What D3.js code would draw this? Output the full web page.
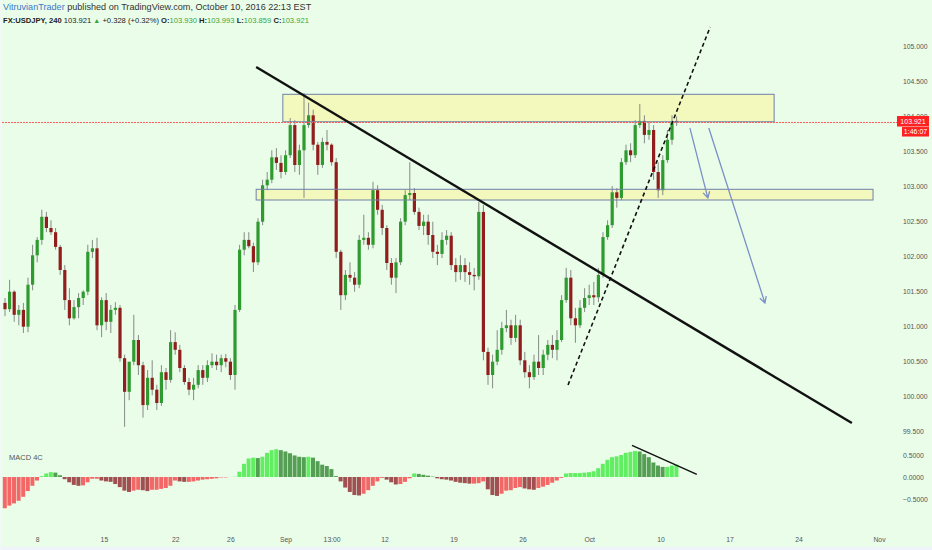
<!DOCTYPE html>
<html><head><meta charset="utf-8">
<script src="https://cdn.jsdelivr.net/npm/d3@7/dist/d3.min.js"></script>
<style>html,body{margin:0;padding:0;background:#eafde9;}svg{display:block}</style>
</head><body><svg id="c" width="932" height="550"></svg>
<script>
// ---- data (USDJPY, candles [open, high, low, close]) ----
const candles = [
[101.33,101.40,101.14,101.24],[101.24,101.66,101.20,101.49],[101.49,101.51,101.06,101.16],[101.16,101.30,101.01,101.23],
[101.23,101.33,100.90,100.99],[100.99,101.69,100.91,101.59],[101.59,102.16,101.51,102.01],[102.01,102.27,101.91,102.23],
[102.23,102.66,102.16,102.56],[102.56,102.63,102.34,102.40],[102.40,102.51,102.30,102.34],[102.34,102.40,102.09,102.13],
[102.13,102.16,101.73,101.80],[101.80,101.87,101.23,101.37],[101.37,101.54,101.01,101.11],[101.11,101.37,101.09,101.27],
[101.27,101.47,101.11,101.40],[101.40,101.51,101.30,101.49],[101.49,102.16,101.44,102.06],[102.06,102.23,101.97,102.11],
[102.11,102.26,100.94,101.01],[101.01,101.41,100.84,101.37],[101.37,101.47,100.94,101.06],[101.06,101.30,100.90,101.23],
[101.23,101.34,101.16,101.26],[101.26,101.30,100.49,100.54],[100.54,100.59,99.56,100.06],[100.06,100.40,99.94,100.49],
[100.49,101.16,100.44,100.80],[100.80,100.87,100.30,100.44],[100.44,100.49,99.69,99.87],[99.87,100.37,99.80,100.26],
[100.26,100.51,100.01,100.09],[100.09,100.16,99.80,99.90],[99.90,100.44,99.86,100.34],[100.34,100.40,100.09,100.23],
[100.23,100.94,100.19,100.77],[100.77,100.91,100.59,100.66],[100.66,100.73,100.34,100.40],[100.40,100.44,100.16,100.20],
[100.20,100.26,100.01,100.09],[100.09,100.26,99.94,100.16],[100.16,100.44,100.11,100.37],[100.37,100.44,100.16,100.26],
[100.26,100.51,100.20,100.44],[100.44,100.61,100.40,100.49],[100.49,100.59,100.37,100.44],[100.44,100.59,100.34,100.54],
[100.54,100.60,100.41,100.49],[100.49,100.54,100.23,100.30],[100.30,101.30,100.09,101.23],[101.23,102.16,101.20,102.09],
[102.09,102.34,102.01,102.23],[102.23,102.34,102.11,102.14],[102.14,102.19,101.77,101.91],[101.91,102.54,101.87,102.49],
[102.49,103.09,102.44,103.01],[103.01,103.20,102.94,103.09],[103.09,103.51,103.04,103.41],[103.41,103.54,103.23,103.33],
[103.33,103.44,103.11,103.20],[103.20,103.51,103.16,103.44],[103.44,103.97,103.40,103.87],[103.87,103.94,103.20,103.30],
[103.30,103.59,103.16,103.51],[103.51,104.33,102.83,103.87],[103.87,104.19,103.83,104.01],[104.01,104.09,103.51,103.59],
[103.59,103.63,103.16,103.30],[103.30,103.69,103.26,103.63],[103.63,103.80,103.51,103.59],[103.59,103.61,103.29,103.34],
[103.34,103.40,101.97,102.06],[102.06,102.09,101.23,101.44],[101.44,101.80,101.37,101.73],[101.73,101.91,101.63,101.69],
[101.69,101.77,101.49,101.59],[101.59,102.30,101.54,102.23],[102.23,102.59,102.16,102.26],[102.26,102.34,102.09,102.16],
[102.16,103.06,102.11,102.94],[102.94,103.01,102.59,102.66],[102.66,102.73,102.30,102.40],[102.40,102.44,101.80,101.90],
[101.90,101.97,101.59,101.69],[101.69,101.97,101.47,101.91],[101.91,102.54,101.87,102.49],[102.49,102.94,102.44,102.87],
[102.87,103.34,102.80,102.90],[102.90,102.97,102.59,102.63],[102.63,102.69,102.37,102.43],[102.43,102.59,102.30,102.49],
[102.49,102.59,102.16,102.30],[102.30,102.49,101.97,102.06],[102.06,102.16,101.87,102.03],[102.03,102.34,101.97,102.23],
[102.23,102.37,102.16,102.29],[102.29,102.34,101.80,101.87],[101.87,101.97,101.63,101.77],[101.77,102.01,101.66,101.87],
[101.87,101.97,101.63,101.77],[101.77,101.91,101.59,101.73],[101.73,101.83,101.51,101.71],[101.71,102.77,101.66,102.63],
[102.63,102.73,100.51,100.63],[100.63,100.69,100.16,100.30],[100.30,100.59,100.11,100.49],[100.49,100.94,100.44,100.66],
[100.66,101.06,100.59,100.97],[100.97,101.23,100.91,101.01],[101.01,101.09,100.73,100.83],[100.83,101.16,100.77,101.01],
[101.01,101.09,100.44,100.51],[100.51,100.63,100.26,100.34],[100.34,100.44,100.11,100.27],[100.27,100.59,100.23,100.49],
[100.49,100.87,100.30,100.40],[100.40,100.66,100.30,100.59],[100.59,100.80,100.51,100.73],[100.73,100.87,100.54,100.66],
[100.66,100.94,100.51,100.80],[100.80,101.44,100.77,101.37],[101.37,101.83,101.33,101.69],[101.69,101.80,101.01,101.11],
[101.11,101.26,100.76,101.01],[101.01,101.37,100.97,101.26],[101.26,101.54,101.20,101.40],[101.40,101.59,101.30,101.44],
[101.44,101.63,101.30,101.41],[101.41,101.83,101.34,101.73],[101.73,102.34,101.69,102.27],[102.27,102.51,102.23,102.44],
[102.44,103.00,102.40,102.91],[102.91,102.97,102.69,102.83],[102.83,103.40,102.80,103.34],[103.34,103.59,103.30,103.51],
[103.51,103.61,103.34,103.44],[103.44,103.94,103.40,103.87],[103.87,104.17,103.83,103.93],[103.93,104.01,103.61,103.73],
[103.73,103.91,103.66,103.80],[103.80,103.87,103.09,103.20],[103.20,103.34,102.83,102.94],[102.94,103.44,102.87,103.37],
[103.37,103.80,103.33,103.66],[103.66,104.01,103.59,103.91],[103.930,103.993,103.859,103.921]
];
const macdHist = [
-0.71,-0.65,-0.60,-0.54,-0.45,-0.32,-0.20,-0.08,0.02,0.08,0.11,0.10,0.04,-0.05,-0.12,-0.18,-0.20,-0.19,-0.12,-0.04,
-0.04,-0.08,-0.10,-0.11,-0.16,-0.23,-0.31,-0.34,-0.31,-0.29,-0.30,-0.32,-0.29,-0.29,-0.27,-0.25,-0.20,-0.08,-0.10,-0.11,
-0.11,-0.10,-0.08,-0.06,-0.05,-0.04,-0.03,-0.01,-0.01,0.00,0.005,0.12,0.30,0.42,0.44,0.43,0.46,0.55,0.61,0.63,
0.61,0.58,0.54,0.49,0.46,0.45,0.46,0.44,0.36,0.28,0.25,0.18,0.02,-0.10,-0.24,-0.34,-0.41,-0.42,-0.38,-0.30,
-0.20,-0.10,-0.02,-0.06,-0.12,-0.17,-0.16,-0.11,-0.03,0.08,0.07,0.05,0.03,0.01,-0.03,-0.05,-0.06,-0.08,-0.11,-0.13,
-0.14,-0.15,-0.15,-0.14,-0.10,-0.28,-0.41,-0.43,-0.38,-0.31,-0.30,-0.25,-0.23,-0.26,-0.28,-0.29,-0.25,-0.22,-0.18,-0.13,
-0.08,-0.02,0.08,0.09,0.09,0.09,0.10,0.11,0.13,0.20,0.30,0.39,0.45,0.47,0.50,0.55,0.57,0.59,0.58,0.52,
0.45,0.33,0.26,0.23,0.23,0.26,0.28
];
const priceTicks = [105, 104.5, 104, 103.5, 103, 102.5, 102, 101.5, 101, 100.5, 100, 99.5];
const macdTicks = [0.5, 0, -0.5];
const timeTickIdx = [7, 21.5, 37, 49, 61, 71, 82.5, 97.5, 112.5, 127, 142.5, 157.5, 172.5, 190];
const timeTickLabels = ["8","15","22","26","Sep","13:00","12","19","26","Oct","10","17","24","Nov"];
const symbol = "FX:USDJPY, 240";
const lastPrice = 103.921, change = "+0.328 (+0.32%)";
const ohlcLabels = [["O:","103.930"],["H:","103.993"],["L:","103.859"],["C:","103.921"]];
const countdown = "1:46:07";
// drawings in (candle index, price) space
const zones = [{i0:60.4,i1:167.2,p0:104.31,p1:103.918},{i0:54.6,i1:188.7,p0:102.953,p1:102.80}];
const trendLines = [{i0:54.6,p0:104.70,i1:184.1,p1:99.614,dash:false},{i0:122.4,p0:100.157,i1:153.3,p1:105.271,dash:true}];
const arrows = [{i0:148.9,p0:103.828,i1:152.8,p1:102.828},{i0:153.0,p0:103.828,i1:165.2,p1:101.328}];
const macdTrend = {i0:136.3,v0:0.72,i1:150.4,v1:0.06};

// ---- scales ----
const svg = d3.select("#c");
const x = d3.scaleLinear().domain([0, 146]).range([5, 676.6]);
const y = d3.scaleLinear().domain([99.5, 105]).range([431, 46]);
const ym = d3.scaleLinear().domain([-0.5, 0.5]).range([499, 455]);
const FONT = "Liberation Sans, Arial, sans-serif";

svg.append("rect").attr("width",932).attr("height",550).attr("fill","#eafde9");
svg.append("rect").attr("x",0).attr("y",547).attr("width",932).attr("height",3).attr("fill","#eef4fa");
svg.append("rect").attr("x",0).attr("y",0).attr("width",2).attr("height",550).attr("fill","#f2f8f6");

const defs = svg.append("defs");
defs.append("clipPath").attr("id","mainClip").append("rect").attr("x",2).attr("y",0).attr("width",895).attr("height",440);
defs.append("clipPath").attr("id","macdClip").append("rect").attr("x",2).attr("y",441).attr("width",895).attr("height",72);

const main = svg.append("g").attr("clip-path","url(#mainClip)");

// zone fills
main.selectAll("rect.zf").data(zones).enter().append("rect")
  .attr("x",d=>x(d.i0)).attr("width",d=>x(d.i1)-x(d.i0))
  .attr("y",d=>y(d.p0)).attr("height",d=>y(d.p1)-y(d.p0))
  .attr("fill","#f3f9bc");

// candles
const cg = main.append("g");
cg.selectAll("line").data(candles).enter().append("line")
  .attr("x1",(d,i)=>x(i)).attr("x2",(d,i)=>x(i))
  .attr("y1",d=>y(d[1])).attr("y2",d=>y(d[2]))
  .attr("stroke","#868a86").attr("stroke-width",1);
cg.selectAll("rect").data(candles).enter().append("rect")
  .attr("x",(d,i)=>x(i)-1.6).attr("width",3.2)
  .attr("y",d=>y(Math.max(d[0],d[3])))
  .attr("height",d=>Math.max(1, Math.abs(y(d[0])-y(d[3]))))
  .attr("fill",d=>d[3]>=d[0]?"#2f9a2f":"#921d1d");

// zone outlines
main.selectAll("rect.zo").data(zones).enter().append("rect")
  .attr("x",d=>x(d.i0)).attr("width",d=>x(d.i1)-x(d.i0))
  .attr("y",d=>y(d.p0)).attr("height",d=>y(d.p1)-y(d.p0))
  .attr("fill","none").attr("stroke","#6f80a8").attr("stroke-width",1);

// last price dotted line
const lyLine = Math.round(y(lastPrice)) + 0.5;
main.append("line").attr("x1",2).attr("x2",897).attr("y1",lyLine).attr("y2",lyLine)
  .attr("stroke","#ff5a5a").attr("stroke-width",1).attr("stroke-dasharray","2,1");

// trend lines
main.selectAll("line.tl").data(trendLines).enter().append("line")
  .attr("x1",d=>x(d.i0)).attr("y1",d=>y(d.p0)).attr("x2",d=>x(d.i1)).attr("y2",d=>y(d.p1))
  .attr("stroke","#111").attr("stroke-width",d=>d.dash?1.6:2.4)
  .attr("stroke-dasharray",d=>d.dash?"4,3":null);

// arrows
arrows.forEach(a=>{
  const x0=x(a.i0), y0=y(a.p0), x1=x(a.i1), y1=y(a.p1);
  const ang=Math.atan2(y1-y0,x1-x0), L=7, w=0.5;
  const p = `M${x0},${y0}L${x1},${y1}M${x1-L*Math.cos(ang-w)},${y1-L*Math.sin(ang-w)}L${x1},${y1}L${x1-L*Math.cos(ang+w)},${y1-L*Math.sin(ang+w)}`;
  main.append("path").attr("d",p).attr("fill","none").attr("stroke","#7b90c6").attr("stroke-width",1.3);
});

// MACD histogram
const mg = svg.append("g").attr("clip-path","url(#macdClip)");
function macdColor(v,i){
  const prev = i>0?macdHist[i-1]:v;
  const rising = v>=prev;
  if(v>=0) return rising?"#62ee62":"#559f55";
  return rising?"#f36767":"#a05050";
}
mg.selectAll("rect").data(macdHist).enter().append("rect")
  .attr("x",(d,i)=>x(i)-2.2).attr("width",4.0)
  .attr("y",d=>Math.min(ym(d),ym(0))).attr("height",d=>Math.abs(ym(d)-ym(0)))
  .attr("fill",(d,i)=>macdColor(d,i));
svg.append("line").attr("x1",x(macdTrend.i0)).attr("y1",ym(macdTrend.v0))
  .attr("x2",x(macdTrend.i1)).attr("y2",ym(macdTrend.v1))
  .attr("stroke","#111").attr("stroke-width",1.5);
svg.append("text").attr("x",9).attr("y",460).attr("font-family",FONT).attr("font-size",7.5)
  .attr("fill","#555").text("MACD 4C");

// axes
const ya = svg.append("g").attr("transform","translate(900,0)")
  .call(d3.axisRight(y).tickValues(priceTicks).tickFormat(d3.format(".3f")).tickSize(0).tickPadding(3));
const ma = svg.append("g").attr("transform","translate(900,0)")
  .call(d3.axisRight(ym).tickValues(macdTicks).tickFormat(d3.format(".4f")).tickSize(0).tickPadding(3));
const xa = svg.append("g").attr("transform","translate(0,537)")
  .call(d3.axisBottom(x).tickValues(timeTickIdx).tickFormat((d,i)=>timeTickLabels[i]).tickSize(0).tickPadding(0));
[ya,ma,xa].forEach(g=>{
  g.select(".domain").remove();
  g.selectAll("text").attr("font-family",FONT).attr("font-size",6.8).attr("fill","#555");
});

// last price labels
const ly = y(lastPrice);
svg.append("rect").attr("x",897).attr("y",ly-5.5).attr("width",32).attr("height",10.5).attr("fill","#ff2020");
svg.append("text").attr("x",913).attr("y",ly+2.5).attr("text-anchor","middle").attr("font-family",FONT)
  .attr("font-size",7).attr("fill","#fff").text(d3.format(".3f")(lastPrice));
svg.append("rect").attr("x",902).attr("y",ly+5.5).attr("width",27).attr("height",9.5).attr("fill","#ff2020");
svg.append("text").attr("x",915.5).attr("y",ly+12.8).attr("text-anchor","middle").attr("font-family",FONT)
  .attr("font-size",7).attr("fill","#fff").text(countdown);

// header
const h1 = svg.append("text").attr("x",3).attr("y",10).attr("font-family",FONT).attr("font-size",9.1);
h1.append("tspan").attr("fill","#3a78c9").text("VitruvianTrader");
h1.append("tspan").attr("fill","#333").text(" published on TradingView.com, October 10, 2016 22:13 EST");
const h2 = svg.append("text").attr("x",3).attr("y",22.5).attr("font-family",FONT).attr("font-size",7.6).attr("fill","#222");
h2.append("tspan").attr("font-weight","bold").text(symbol);
h2.append("tspan").text(" " + d3.format(".3f")(lastPrice) + " ");
h2.append("tspan").attr("fill","#3aa43a").attr("font-size",7).text("▲");
h2.append("tspan").text(" " + change + " ");
ohlcLabels.forEach(([k,v],i)=>{
  h2.append("tspan").attr("font-weight","bold").text((i?" ":"")+k);
  h2.append("tspan").attr("fill","#3aa43a").text(v);
});
</script></body></html>
